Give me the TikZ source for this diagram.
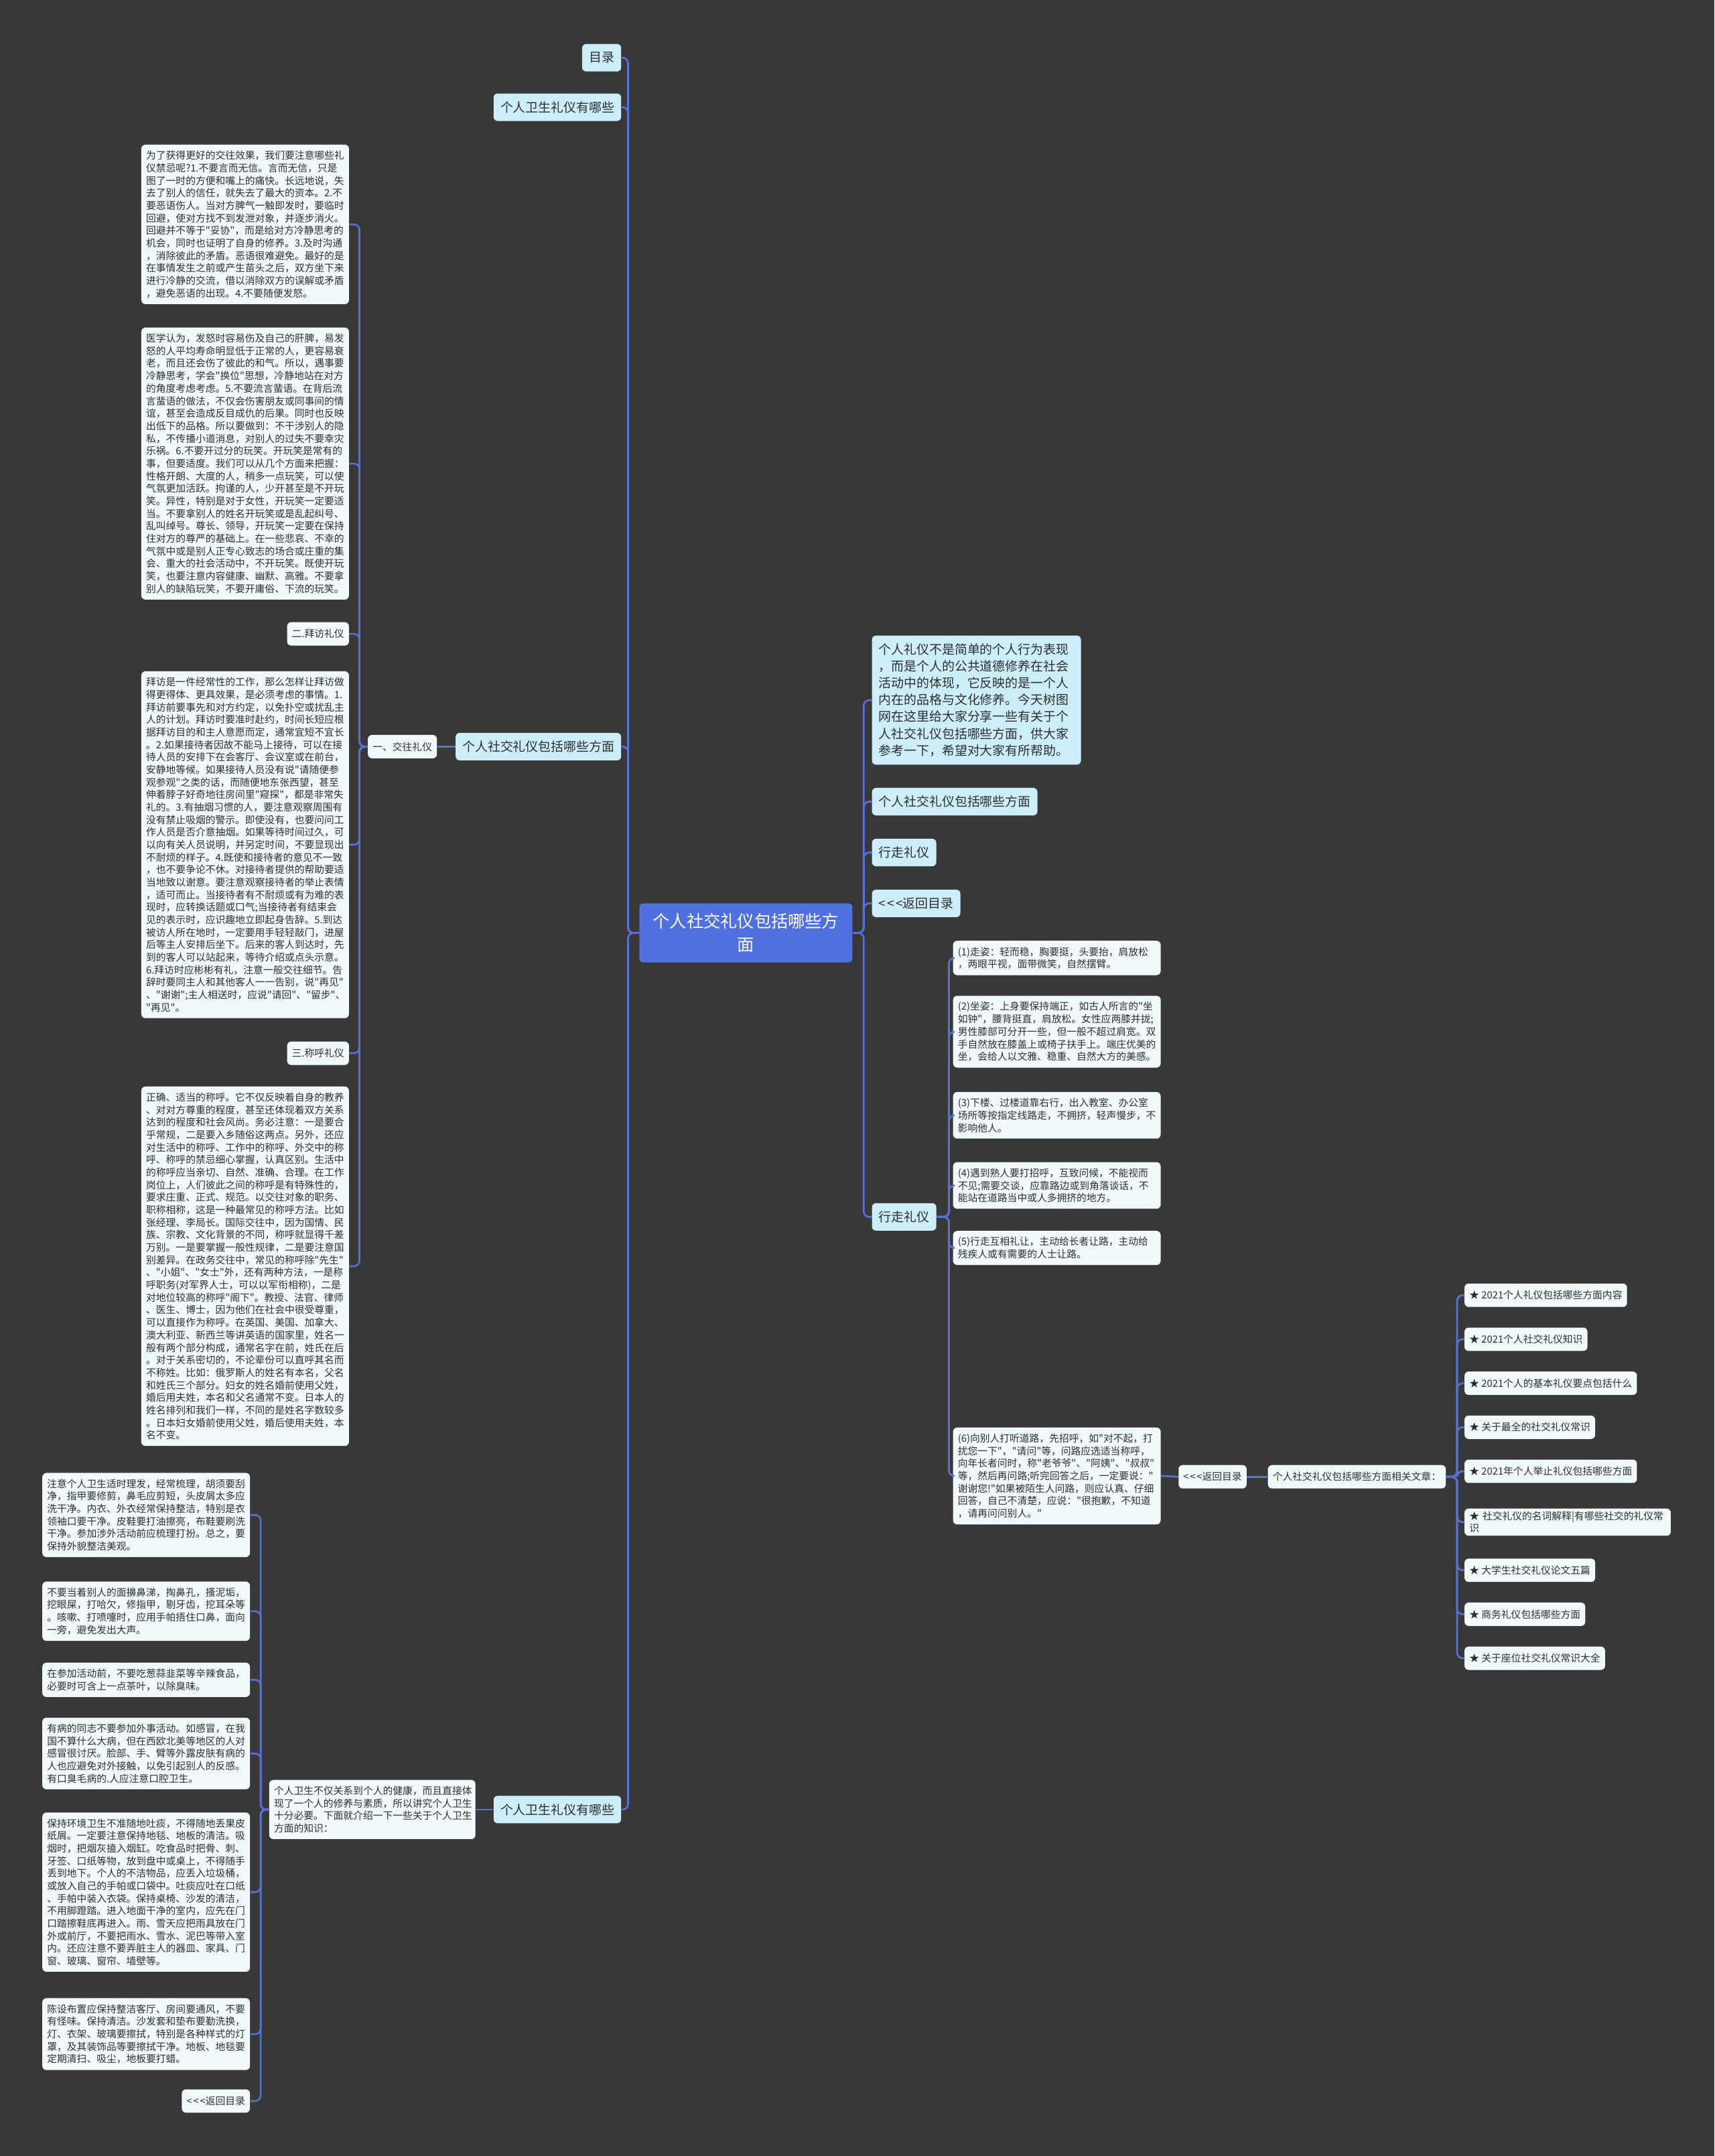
\documentclass[tikz,border=0pt]{standalone}
\usepackage{fontspec}
\setmainfont{Noto Sans CJK SC}[Ligatures=TeXOff]
\definecolor{bgdark}{RGB}{57,56,56}
\definecolor{linkblue}{RGB}{86,114,214}
\definecolor{topicfill}{RGB}{204,238,251}
\definecolor{leaffill}{RGB}{240,250,253}
\definecolor{rootblue}{RGB}{79,112,222}
\definecolor{textdark}{RGB}{45,45,45}
\newcommand{\leaffont}{\fontsize{7.2}{9.1}\selectfont}
\newcommand{\topicfont}{\fontsize{9.2}{12.2}\selectfont}
\newcommand{\rootfont}{\fontsize{12.3}{17}\selectfont}
\newcommand{\backlink}{<\kern.12em<\kern.12em<返回目录}

\begin{document}
\begin{tikzpicture}[x=1pt,y=-1pt,
  link/.style={draw=linkblue,line width=1.3pt,rounded corners=4pt},
  topic/.style={fill=topicfill,rounded corners=3pt,text=textdark,font=\topicfont,
    inner xsep=5pt,inner ysep=3pt,minimum height=20pt},
  leaf/.style={fill=leaffill,rounded corners=3pt,text=textdark,font=\leaffont,
    inner xsep=3.5pt,inner ysep=2pt,minimum height=17pt},
  para/.style={leaf,text width=144pt,align=left,inner ysep=4.5pt},
  rootbox/.style={fill=rootblue,rounded corners=3pt,text=white,font=\rootfont,
    text width=140pt,align=center,inner xsep=7.5pt,minimum height=43pt}]
	% Background
	\useasboundingbox (0,0) rectangle (1247,1568);
	\fill[bgdark] (0,0) rectangle (1247,1568);
	% Root
	\node[rootbox] (root) at (542.5,678.5) {个人社交礼仪包括哪些方\\面};
	% Left branches
	\node[topic,anchor=east] (ml) at (452,42) {目录};
	\node[topic,anchor=east] (wsa) at (452,78) {个人卫生礼仪有哪些};
	\node[topic,anchor=east] (sjl) at (452,543) {个人社交礼仪包括哪些方面};
	\node[topic,anchor=east] (wsb) at (452,1316) {个人卫生礼仪有哪些};
	\node[leaf,anchor=east] (jw) at (318,543) {一、交往礼仪};
	\node[para,anchor=north east] (jw1) at (254,105) {为了获得更好的交往效果，我们要注意哪些礼\\仪禁忌呢?1.不要言而无信。言而无信，只是\\图了一时的方便和嘴上的痛快。长远地说，失\\去了别人的信任，就失去了最大的资本。2.不\\要恶语伤人。当对方脾气一触即发时，要临时\\回避，使对方找不到发泄对象，并逐步消火。\\回避并不等于"妥协"，而是给对方冷静思考的\\机会，同时也证明了自身的修养。3.及时沟通\\，消除彼此的矛盾。恶语很难避免。最好的是\\在事情发生之前或产生苗头之后，双方坐下来\\进行冷静的交流，借以消除双方的误解或矛盾\\，避免恶语的出现。4.不要随便发怒。};
	\node[para,anchor=north east] (jw2) at (254,238) {医学认为，发怒时容易伤及自己的肝脾，易发\\怒的人平均寿命明显低于正常的人，更容易衰\\老，而且还会伤了彼此的和气。所以，遇事要\\冷静思考，学会"换位"思想，冷静地站在对方\\的角度考虑考虑。5.不要流言蜚语。在背后流\\言蜚语的做法，不仅会伤害朋友或同事间的情\\谊，甚至会造成反目成仇的后果。同时也反映\\出低下的品格。所以要做到：不干涉别人的隐\\私，不传播小道消息，对别人的过失不要幸灾\\乐祸。6.不要开过分的玩笑。开玩笑是常有的\\事，但要适度。我们可以从几个方面来把握：\\性格开朗、大度的人，稍多一点玩笑，可以使\\气氛更加活跃。拘谨的人，少开甚至是不开玩\\笑。异性，特别是对于女性，开玩笑一定要适\\当。不要拿别人的姓名开玩笑或是乱起纠号、\\乱叫绰号。尊长、领导，开玩笑一定要在保持\\住对方的尊严的基础上。在一些悲哀、不幸的\\气氛中或是别人正专心致志的场合或庄重的集\\会、重大的社会活动中，不开玩笑。既使开玩\\笑，也要注意内容健康、幽默、高雅。不要拿\\别人的缺陷玩笑，不要开庸俗、下流的玩笑。};
	\node[leaf,anchor=east] (bf) at (254,461) {二.拜访礼仪};
	\node[para,anchor=north east] (jw3) at (254,488) {拜访是一件经常性的工作，那么怎样让拜访做\\得更得体、更具效果，是必须考虑的事情。1.\\拜访前要事先和对方约定，以免扑空或扰乱主\\人的计划。拜访时要准时赴约，时间长短应根\\据拜访目的和主人意愿而定，通常宜短不宜长\\。2.如果接待者因故不能马上接待，可以在接\\待人员的安排下在会客厅、会议室或在前台，\\安静地等候。如果接待人员没有说"请随便参\\观参观"之类的话，而随便地东张西望，甚至\\伸着脖子好奇地往房间里"窥探"，都是非常失\\礼的。3.有抽烟习惯的人，要注意观察周围有\\没有禁止吸烟的警示。即使没有，也要问问工\\作人员是否介意抽烟。如果等待时间过久，可\\以向有关人员说明，并另定时间，不要显现出\\不耐烦的样子。4.既使和接待者的意见不一致\\，也不要争论不休。对接待者提供的帮助要适\\当地致以谢意。要注意观察接待者的举止表情\\，适可而止。当接待者有不耐烦或有为难的表\\现时，应转换话题或口气;当接待者有结束会\\见的表示时，应识趣地立即起身告辞。5.到达\\被访人所在地时，一定要用手轻轻敲门，进屋\\后等主人安排后坐下。后来的客人到达时，先\\到的客人可以站起来，等待介绍或点头示意。\\6.拜访时应彬彬有礼，注意一般交往细节。告\\辞时要同主人和其他客人一一告别，说"再见"\\、"谢谢";主人相送时，应说"请回"、"留步"、\\"再见"。};
	\node[leaf,anchor=east] (ch) at (254,766) {三.称呼礼仪};
	\node[para,anchor=north east] (jw4) at (254,790) {正确、适当的称呼。它不仅反映着自身的教养\\、对对方尊重的程度，甚至还体现着双方关系\\达到的程度和社会风尚。务必注意：一是要合\\乎常规，二是要入乡随俗这两点。另外，还应\\对生活中的称呼、工作中的称呼、外交中的称\\呼、称呼的禁忌细心掌握，认真区别。生活中\\的称呼应当亲切、自然、准确、合理。在工作\\岗位上，人们彼此之间的称呼是有特殊性的，\\要求庄重、正式、规范。以交往对象的职务、\\职称相称，这是一种最常见的称呼方法。比如\\张经理、李局长。国际交往中，因为国情、民\\族、宗教、文化背景的不同，称呼就显得千差\\万别。一是要掌握一般性规律，二是要注意国\\别差异。在政务交往中，常见的称呼除"先生"\\、"小姐"、"女士"外，还有两种方法，一是称\\呼职务(对军界人士，可以以军衔相称)，二是\\对地位较高的称呼"阁下"。教授、法官、律师\\、医生、博士，因为他们在社会中很受尊重，\\可以直接作为称呼。在英国、美国、加拿大、\\澳大利亚、新西兰等讲英语的国家里，姓名一\\般有两个部分构成，通常名字在前，姓氏在后\\。对于关系密切的，不论辈份可以直呼其名而\\不称姓。比如：俄罗斯人的姓名有本名，父名\\和姓氏三个部分。妇女的姓名婚前使用父姓，\\婚后用夫姓，本名和父名通常不变。日本人的\\姓名排列和我们一样，不同的是姓名字数较多\\。日本妇女婚前使用父姓，婚后使用夫姓，本\\名不变。};
	% Hygiene branch
	\node[para,anchor=east,text width=143pt] (wsi) at (346,1316) {个人卫生不仅关系到个人的健康，而且直接体\\现了一个人的修养与素质，所以讲究个人卫生\\十分必要。下面就介绍一下一些关于个人卫生\\方面的知识：};
	\node[para,anchor=north east] (h1) at (182,1071) {注意个人卫生适时理发，经常梳理，胡须要刮\\净，指甲要修剪，鼻毛应剪短，头皮屑太多应\\洗干净。内衣、外衣经常保持整洁，特别是衣\\领袖口要干净。皮鞋要打油擦亮，布鞋要刷洗\\干净。参加涉外活动前应梳理打扮。总之，要\\保持外貌整洁美观。};
	\node[para,anchor=north east] (h2) at (182,1150) {不要当着别人的面擤鼻涕，掏鼻孔，搔泥垢，\\挖眼屎，打哈欠，修指甲，剔牙齿，挖耳朵等\\。咳嗽、打喷嚏时，应用手帕捂住口鼻，面向\\一旁，避免发出大声。};
	\node[para,anchor=north east] (h3) at (182,1209) {在参加活动前，不要吃葱蒜韭菜等辛辣食品，\\必要时可含上一点茶叶，以除臭味。};
	\node[para,anchor=north east] (h4) at (182,1249) {有病的同志不要参加外事活动。如感冒，在我\\国不算什么大病，但在西欧北美等地区的人对\\感冒很讨厌。脸部、手、臂等外露皮肤有病的\\人也应避免对外接触，以免引起别人的反感。\\有口臭毛病的.人应注意口腔卫生。};
	\node[para,anchor=north east] (h5) at (182,1318) {保持环境卫生不准随地吐痰，不得随地丢果皮\\纸屑。一定要注意保持地毯、地板的清洁。吸\\烟时，把烟灰搕入烟缸。吃食品时把骨、刺、\\牙签、口纸等物，放到盘中或桌上，不得随手\\丢到地下。个人的不洁物品，应丢入垃圾桶，\\或放入自己的手帕或口袋中。吐痰应吐在口纸\\、手帕中装入衣袋。保持桌椅、沙发的清洁，\\不用脚蹬踏。进入地面干净的室内，应先在门\\口踏擦鞋底再进入。雨、雪天应把雨具放在门\\外或前厅，不要把雨水、雪水、泥巴等带入室\\内。还应注意不要弄脏主人的器皿、家具、门\\窗、玻璃、窗帘、墙壁等。};
	\node[para,anchor=north east] (h6) at (182,1453) {陈设布置应保持整洁客厅、房间要通风，不要\\有怪味。保持清洁。沙发套和垫布要勤洗换，\\灯、衣架、玻璃要擦拭，特别是各种样式的灯\\罩，及其装饰品等要擦拭干净。地板、地毯要\\定期清扫、吸尘，地板要打蜡。};
	\node[leaf,anchor=east] (fh1) at (182,1528) {\backlink};
	% Right branches
	\node[topic,anchor=north west,text width=142pt,align=left,inner ysep=6pt] (intro) at (634,462) {个人礼仪不是简单的个人行为表现\\，而是个人的公共道德修养在社会\\活动中的体现，它反映的是一个人\\内在的品格与文化修养。今天树图\\网在这里给大家分享一些有关于个\\人社交礼仪包括哪些方面，供大家\\参考一下，希望对大家有所帮助。};
	\node[topic,anchor=west] (sjr) at (634,583) {个人社交礼仪包括哪些方面};
	\node[topic,anchor=west] (xz1) at (634,620) {行走礼仪};
	\node[topic,anchor=west] (fh2) at (634,657) {\backlink};
	\node[topic,anchor=west] (xz2) at (634,885) {行走礼仪};
	\node[para,anchor=north west] (s1) at (693,684) {(1)走姿：轻而稳，胸要挺，头要抬，肩放松\\，两眼平视，面带微笑，自然摆臂。};
	\node[para,anchor=north west] (s2) at (693,724) {(2)坐姿：上身要保持端正，如古人所言的"坐\\如钟"，腰背挺直，肩放松。女性应两膝并拢;\\男性膝部可分开一些，但一般不超过肩宽。双\\手自然放在膝盖上或椅子扶手上。端庄优美的\\坐，会给人以文雅、稳重、自然大方的美感。};
	\node[para,anchor=north west] (s3) at (693,794) {(3)下楼、过楼道靠右行，出入教室、办公室\\场所等按指定线路走，不拥挤，轻声慢步，不\\影响他人。};
	\node[para,anchor=north west] (s4) at (693,845) {(4)遇到熟人要打招呼，互致问候，不能视而\\不见;需要交谈，应靠路边或到角落谈话，不\\能站在道路当中或人多拥挤的地方。};
	\node[para,anchor=north west] (s5) at (693,895) {(5)行走互相礼让，主动给长者让路，主动给\\残疾人或有需要的人士让路。};
	\node[para,anchor=north west] (s6) at (693,1038) {(6)向别人打听道路，先招呼，如"对不起，打\\扰您一下"，"请问"等，问路应选适当称呼，\\向年长者问时，称"老爷爷"、"阿姨"、"叔叔"\\等，然后再问路;听完回答之后，一定要说："\\谢谢您!"如果被陌生人问路，则应认真、仔细\\回答，自己不清楚，应说："很抱歉，不知道\\，请再问问别人。"};
	\node[leaf,anchor=west] (fh3) at (857,1074) {\backlink};
	\node[leaf,anchor=west] (xg) at (922,1074) {个人社交礼仪包括哪些方面相关文章：};
	% Related articles
	\node[leaf,anchor=west] (r1) at (1065,942) {★ 2021个人礼仪包括哪些方面内容};
	\node[leaf,anchor=west] (r2) at (1065,974) {★ 2021个人社交礼仪知识};
	\node[leaf,anchor=west] (r3) at (1065,1006) {★ 2021个人的基本礼仪要点包括什么};
	\node[leaf,anchor=west] (r4) at (1065,1038) {★ 关于最全的社交礼仪常识};
	\node[leaf,anchor=west] (r5) at (1065,1070) {★ 2021年个人举止礼仪包括哪些方面};
	\node[leaf,anchor=west,text width=143pt,align=left] (r6) at (1065,1107) {★ 社交礼仪的名词解释|有哪些社交的礼仪常\\识};
	\node[leaf,anchor=west] (r7) at (1065,1142) {★ 大学生社交礼仪论文五篇};
	\node[leaf,anchor=west] (r8) at (1065,1174) {★ 商务礼仪包括哪些方面};
	\node[leaf,anchor=west] (r9) at (1065,1206) {★ 关于座位社交礼仪常识大全};
	% Connectors
	\foreach \c in {ml,wsa,sjl,wsb}
		\draw[link] (root.west) -- ++(-8,0) |- (\c.east);
	\foreach \c in {intro,sjr,xz1,fh2,xz2}
		\draw[link] (root.east) -- ++(8,0) |- (\c.west);
	\draw[link] (sjl.west) -- (jw.east);
	\foreach \c in {jw1,jw2,bf,jw3,ch,jw4}
		\draw[link] (jw.west) -- ++(-6,0) |- (\c.east);
	\draw[link] (wsb.west) -- (wsi.east);
	\foreach \c in {h1,h2,h3,h4,h5,h6,fh1}
		\draw[link] (wsi.west) -- ++(-6,0) |- (\c.east);
	\foreach \c in {s1,s2,s3,s4,s5,s6}
		\draw[link] (xz2.east) -- ++(9,0) |- (\c.west);
	\draw[link] (s6.east) -- (fh3.west);
	\draw[link] (fh3.east) -- (xg.west);
	\foreach \c in {r1,r2,r3,r4,r5,r6,r7,r8,r9}
		\draw[link] (xg.east) -- ++(8,0) |- (\c.west);
\end{tikzpicture}
\end{document}
